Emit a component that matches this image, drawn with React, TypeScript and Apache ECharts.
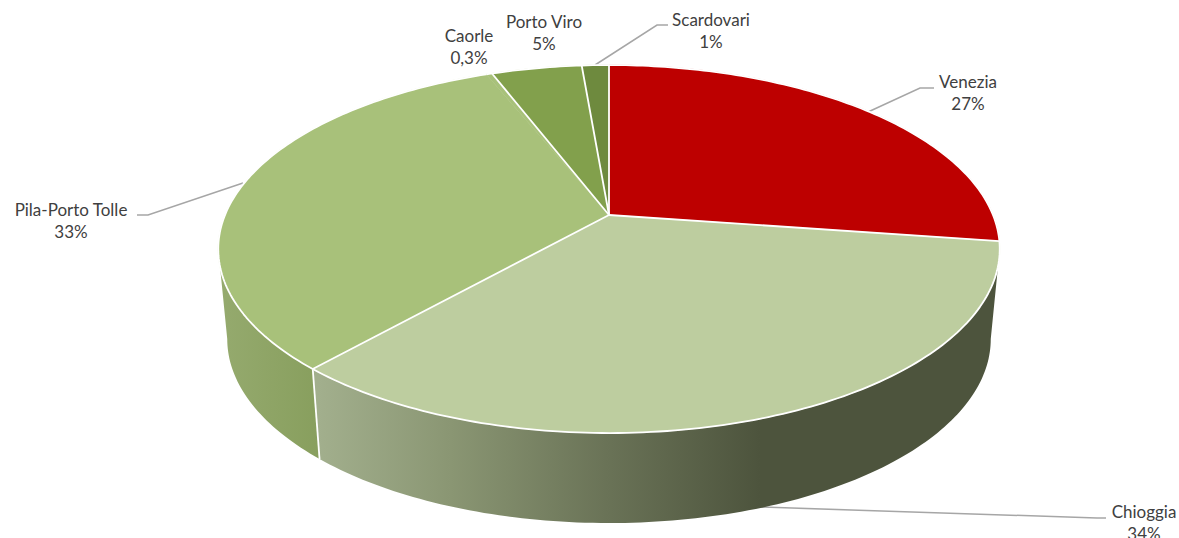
import React, { useEffect, useRef } from "react";
import * as echarts from "echarts";

// Share of each landing site, clockwise from twelve o'clock.
const siteNames = ["Venezia", "Chioggia", "Pila-Porto Tolle", "Caorle", "Porto Viro", "Scardovari"];
const siteShares = [27.45, 34.49, 32.5, 0.3, 4.5, 1.35];
const shareLabels = ["27%", "34%", "33%", "0,3%", "5%", "1%"];

const topColours = ["#bd0000", "#bdcd9f", "#a8c17a", "#a8c17a", "#82a04c", "#6e8a3e"];

const FONT = "Lato";
const TEXT_COLOUR = "#404040";
const LEADER_COLOUR = "#a6a6a6";

// Where each callout sits: text centre and the bent leader line.
const callouts: Record<string, { x: number; y: number; leader?: number[][] }> = {
  Venezia: { x: 968, y: 92, leader: [[868, 112], [920, 88], [934, 88]] },
  Chioggia: { x: 1144, y: 522, leader: [[760, 507], [1097, 518], [1106, 518]] },
  "Pila-Porto Tolle": { x: 71, y: 220, leader: [[243, 183], [148, 215], [137, 215]] },
  Caorle: { x: 469, y: 46 },
  "Porto Viro": { x: 544, y: 32 },
  Scardovari: { x: 711, y: 30, leader: [[595, 65], [657, 25], [668, 25]] },
};

// Perspective disc: the apex of the slices sits above the centre of the drawn ellipse.
const APEX_X = 609;
const APEX_Y = 215;
const RADIUS_X = 384;
const RADIUS_Y = 177.7;
const TILT = 0.185;
const DEPTH = 90;
const FLOOR_SCALE = 0.977;

const TWO_PI = Math.PI * 2;
const total = siteShares.reduce((a, b) => a + b, 0);
const starts: number[] = [];
siteShares.reduce((acc, v, i) => {
  starts[i] = (acc / total) * TWO_PI;
  return acc + v;
}, 0);
const sliceEnd = (i: number) => (i + 1 < starts.length ? starts[i + 1] : TWO_PI);

const rimPoint = (theta: number, floor = false): number[] => {
  const u = Math.sin(theta);
  const v = -Math.cos(theta);
  const d = 1 - TILT * v;
  const x = (RADIUS_X * u) / d;
  const y = APEX_Y + (RADIUS_Y * v) / d;
  return floor ? [APEX_X + x * FLOOR_SCALE, y + DEPTH] : [APEX_X + x, y];
};

const arcPoints = (a: number, b: number, floor = false): number[][] => {
  const steps = Math.max(2, Math.ceil(((b - a) / TWO_PI) * 360));
  const pts: number[][] = [];
  for (let i = 0; i <= steps; i++) pts.push(rimPoint(a + ((b - a) * i) / steps, floor));
  return pts;
};

// The wall shows only between the two silhouette angles of the disc.
const WALL_FROM = Math.acos(-TILT);
const WALL_TO = TWO_PI - WALL_FROM;

const wallFill: Record<string, echarts.graphic.LinearGradient> = {
  Chioggia: new echarts.graphic.LinearGradient(
    318, 0, 760, 0,
    [
      { offset: 0, color: "#a2af8d" },
      { offset: 0.3, color: "#8a9673" },
      { offset: 0.65, color: "#6a7357" },
      { offset: 1, color: "#4d543d" },
    ],
    true,
  ),
  "Pila-Porto Tolle": new echarts.graphic.LinearGradient(
    220, 0, 318, 0,
    [
      { offset: 0, color: "#95aa6e" },
      { offset: 1, color: "#889f5e" },
    ],
    true,
  ),
};

const renderWall = (params: any) => {
  const i = params.dataIndex;
  const a = Math.max(starts[i], WALL_FROM);
  const b = Math.min(sliceEnd(i), WALL_TO);
  const fill = wallFill[siteNames[i]];
  if (b <= a || !fill) return { type: "group", children: [] };
  const top = arcPoints(a, b);
  const floor = arcPoints(a, b, true).reverse();
  const children: any[] = [
    { type: "polygon", shape: { points: top.concat(floor) }, style: { fill } },
  ];
  if (starts[i] > WALL_FROM) {
    const p = rimPoint(starts[i]);
    const q = rimPoint(starts[i], true);
    children.push({
      type: "line",
      z2: 5,
      shape: { x1: p[0], y1: p[1], x2: q[0], y2: q[1] },
      style: { stroke: "#ffffff", lineWidth: 1.8 },
    });
  }
  return { type: "group", children };
};

const renderTop = (params: any) => {
  const i = params.dataIndex;
  return {
    type: "polygon",
    shape: { points: [[APEX_X, APEX_Y]].concat(arcPoints(starts[i], sliceEnd(i))) },
    style: { fill: topColours[i], stroke: topColours[i], lineWidth: 0.5 },
  };
};

// White rim and spokes go on top; neighbours sharing a colour get no spoke between them.
const renderOutline = (params: any) => {
  const i = params.dataIndex;
  const hasSpoke = i === 0 || topColours[i] !== topColours[i - 1];
  const rim = arcPoints(starts[i], sliceEnd(i));
  const points = hasSpoke ? [[APEX_X, APEX_Y]].concat(rim) : rim;
  return {
    type: "polyline",
    shape: { points },
    style: { fill: "none", stroke: "#ffffff", lineWidth: 1.8, lineJoin: "round" },
  };
};

const calloutGraphics = siteNames.flatMap((name, i) => {
  const c = callouts[name];
  const items: any[] = [
    {
      type: "text",
      x: c.x,
      y: c.y,
      style: {
        text: `${name}\n${shareLabels[i]}`,
        fill: TEXT_COLOUR,
        font: `17px ${FONT}`,
        lineHeight: 22,
        align: "center",
        verticalAlign: "middle",
      },
    },
  ];
  if (c.leader) {
    items.push({
      type: "polyline",
      shape: { points: c.leader },
      style: { stroke: LEADER_COLOUR, lineWidth: 1.5, fill: "none" },
    });
  }
  return items;
});

const discSeries = (renderItem: any, z: number) => ({
  type: "custom",
  coordinateSystem: "none",
  z,
  silent: true,
  data: siteShares,
  renderItem,
});

export default function App() {
  const ref = useRef<HTMLDivElement>(null);
  useEffect(() => {
    if (!ref.current) return;
    const chart = echarts.init(ref.current, undefined, { renderer: "svg" });
    chart.setOption({
      animation: false,
      backgroundColor: "#ffffff",
      graphic: { elements: calloutGraphics },
      series: [discSeries(renderWall, 1), discSeries(renderTop, 2), discSeries(renderOutline, 3)],
    });
    return () => chart.dispose();
  }, []);
  return <div ref={ref} style={{ position: "absolute", left: 0, top: 0, width: 1179, height: 538 }} />;
}
